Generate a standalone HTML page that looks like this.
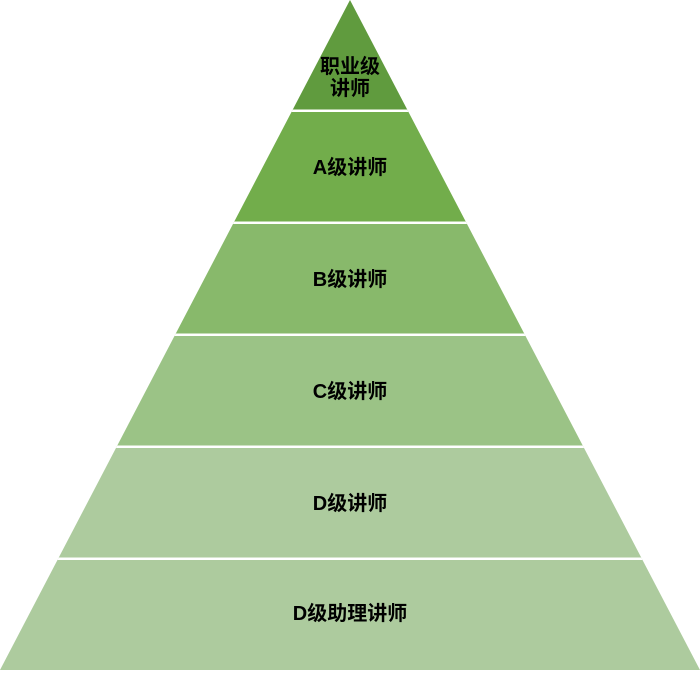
<!DOCTYPE html>
<html><head><meta charset="utf-8"><style>
html,body{margin:0;padding:0;background:#fff;}
svg text{font-family:"Liberation Sans","Noto Sans CJK SC",sans-serif;font-weight:bold;font-size:20px;fill:#000;text-anchor:middle;}
</style></head><body>
<svg width="700" height="670" viewBox="0 0 700 670" xmlns="http://www.w3.org/2000/svg">
<defs><clipPath id="t"><polygon points="350,0 700,670 0,670"/></clipPath></defs>
<g clip-path="url(#t)">
<rect x="0" y="0" width="700" height="111" fill="#609b3e"/>
<rect x="0" y="111" width="700" height="112" fill="#72ad4b"/>
<rect x="0" y="223" width="700" height="112" fill="#88b96b"/>
<rect x="0" y="335" width="700" height="112" fill="#9bc386"/>
<rect x="0" y="447" width="700" height="112" fill="#adcb9e"/>
<rect x="0" y="559" width="700" height="111" fill="#adcb9e"/>
<g fill="#fff">
<rect x="0" y="109.5" width="700" height="2.5"/>
<rect x="0" y="221.5" width="700" height="2.5"/>
<rect x="0" y="333.5" width="700" height="2.5"/>
<rect x="0" y="445.5" width="700" height="2.5"/>
<rect x="0" y="557.5" width="700" height="2.5"/>
</g>
</g>
<text x="350" y="73">职业级</text>
<text x="350" y="95">讲师</text>
<text x="350" y="174">A级讲师</text>
<text x="350" y="286">B级讲师</text>
<text x="350" y="398">C级讲师</text>
<text x="350" y="510">D级讲师</text>
<text x="350" y="620">D级助理讲师</text>
</svg>
</body></html>
